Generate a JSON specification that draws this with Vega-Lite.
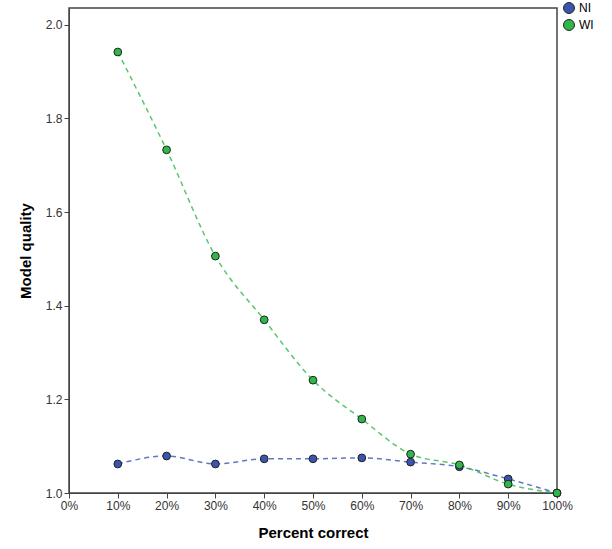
{
  "$schema": "https://vega.github.io/schema/vega-lite/v6.json",
  "autosize": "none",
  "padding": {"left": 69, "top": 8, "right": 55, "bottom": 56},
  "width": 488,
  "height": 485,
  "config": {"font": "Liberation Sans", "view": {"stroke": "#444", "strokeWidth": 1.5}, "background": "white"},
  "data": {"values": [
    {"pct": 10, "group": "NI", "q": 1.062}, {"pct": 20, "group": "NI", "q": 1.079},
    {"pct": 30, "group": "NI", "q": 1.062}, {"pct": 40, "group": "NI", "q": 1.073},
    {"pct": 50, "group": "NI", "q": 1.073}, {"pct": 60, "group": "NI", "q": 1.075},
    {"pct": 70, "group": "NI", "q": 1.066}, {"pct": 80, "group": "NI", "q": 1.056},
    {"pct": 90, "group": "NI", "q": 1.03}, {"pct": 100, "group": "NI", "q": 1.0},
    {"pct": 10, "group": "WI", "q": 1.942}, {"pct": 20, "group": "WI", "q": 1.733},
    {"pct": 30, "group": "WI", "q": 1.506}, {"pct": 40, "group": "WI", "q": 1.37},
    {"pct": 50, "group": "WI", "q": 1.241}, {"pct": 60, "group": "WI", "q": 1.158},
    {"pct": 70, "group": "WI", "q": 1.083}, {"pct": 80, "group": "WI", "q": 1.06},
    {"pct": 90, "group": "WI", "q": 1.019}, {"pct": 100, "group": "WI", "q": 1.0}
  ]},
  "encoding": {
    "x": {"field": "pct", "type": "quantitative", "title": "Percent correct",
      "scale": {"domain": [0, 100], "nice": false},
      "axis": {"values": [0,10,20,30,40,50,60,70,80,90,100], "labelExpr": "datum.value + '%'", "grid": false, "labelFlush": false,
        "domainColor": "#444", "tickColor": "#444", "labelFontSize": 12, "labelColor": "#333",
        "titleFontSize": 15, "titleFontWeight": "bold", "titlePadding": 14}},
    "y": {"field": "q", "type": "quantitative", "title": "Model quality",
      "scale": {"domain": [1.0, 2.036], "nice": false, "zero": false},
      "axis": {"values": [1.0, 1.2, 1.4, 1.6, 1.8, 2.0], "format": ".1f", "grid": false, "labelFlush": false,
        "domainColor": "#444", "tickColor": "#444", "labelFontSize": 12, "labelColor": "#333",
        "titleFontSize": 15, "titleFontWeight": "bold", "titlePadding": 12}}
  },
  "layer": [
    {"mark": {"type": "line", "interpolate": "monotone", "strokeDash": [5, 4], "strokeWidth": 1.5, "opacity": 0.8},
     "encoding": {"stroke": {"field": "group", "type": "nominal", "legend": null,
        "scale": {"domain": ["NI", "WI"], "range": ["#3a55b0", "#2fb84a"]}}}},
    {"mark": {"type": "circle", "size": 60, "opacity": 1, "stroke": "#222", "strokeWidth": 1},
     "encoding": {"fill": {"field": "group", "type": "nominal", "title": null,
      "scale": {"domain": ["NI", "WI"], "range": ["#3a55b0", "#2fb84a"]},
      "legend": {"orient": "none", "legendX": 494, "legendY": -6, "symbolType": "circle", "symbolSize": 120,
        "symbolStrokeColor": "#222", "symbolStrokeWidth": 1, "symbolOpacity": 1, "labelFontSize": 12, "rowPadding": 1}}}}
  ],
  "resolve": {"scale": {"fill": "independent", "stroke": "independent"}}
}
